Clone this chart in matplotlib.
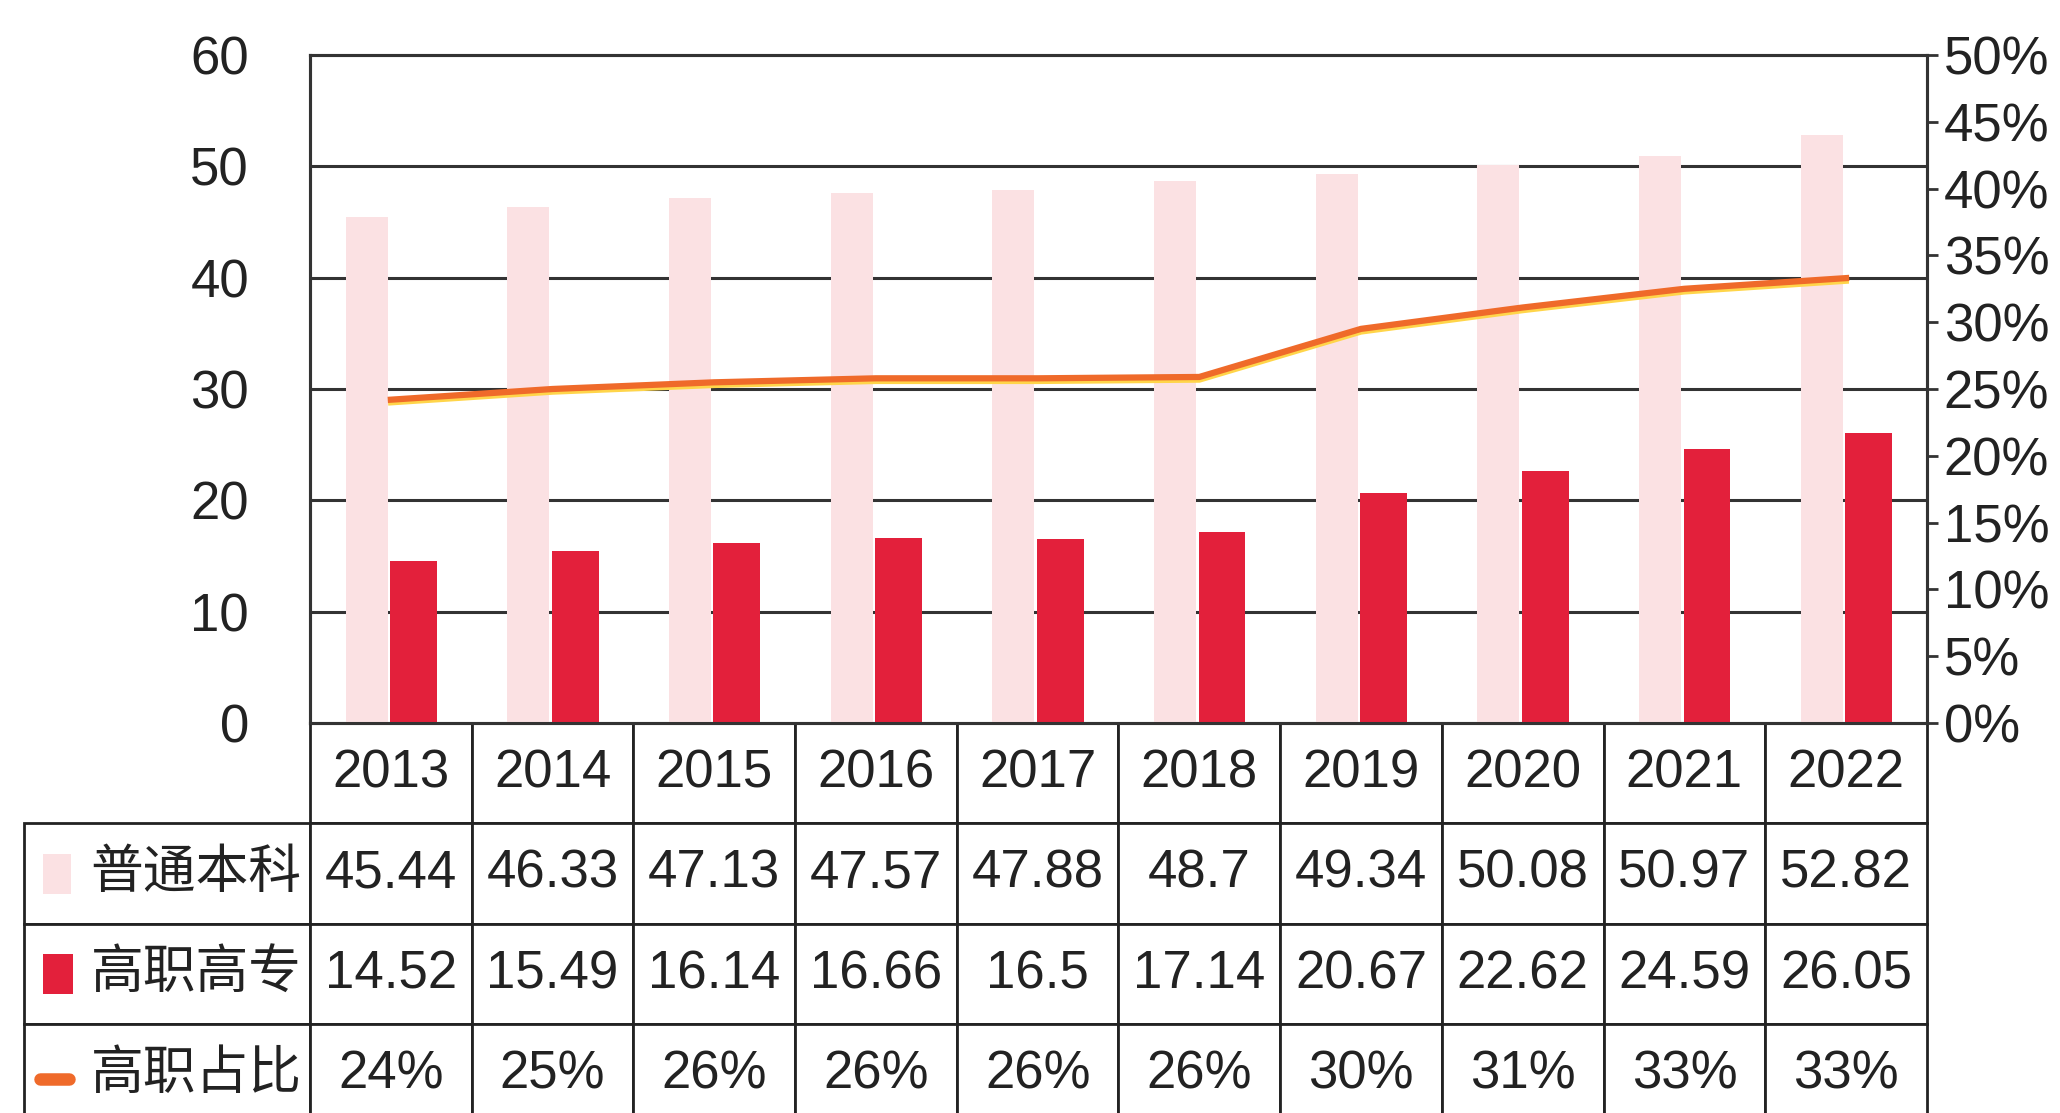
import matplotlib.pyplot as plt
from matplotlib.patches import Rectangle
from matplotlib.ticker import FuncFormatter
import matplotlib.transforms as mtransforms

plt.rcParams['font.family'] = ['Liberation Sans', 'Noto Sans CJK SC', 'DejaVu Sans']

# ---------------------------------------------------------------
# dados
# ---------------------------------------------------------------
anos = ["2013", "2014", "2015", "2016", "2017", "2018", "2019", "2020", "2021", "2022"]
benke = [45.44, 46.33, 47.13, 47.57, 47.88, 48.7, 49.34, 50.08, 50.97, 52.82]
gaozhi = [14.52, 15.49, 16.14, 16.66, 16.5, 17.14, 20.67, 22.62, 24.59, 26.05]
# linha do percentual
zhanbi = [24.2, 25.0, 25.5, 25.8, 25.8, 25.9, 29.5, 31.1, 32.5, 33.3]
zhanbi_txt = ["24%", "25%", "26%", "26%", "26%", "26%", "30%", "31%", "33%", "33%"]
nomes = ["普通本科", "高职高专", "高职占比"]

COR_ROSA = "#fbe1e3"
COR_VERM = "#e3203b"
COR_LARANJA = "#ef6a2a"
COR_AMARELO = "#ffd54a"
COR_GRADE = "#333333"
FS = 38

fig = plt.figure(figsize=(20.6, 11.13), dpi=100)
ax = fig.add_axes([0.1505, 0.3504, 0.7849, 0.6002])

x = list(range(len(anos)))
ax.bar([i - 0.15 for i in x], benke, width=0.26, color=COR_ROSA, zorder=3)
ax.bar([i + 0.14 for i in x], gaozhi, width=0.29, color=COR_VERM, zorder=3)

ax.set_xlim(-0.5, len(anos) - 0.5)
ax.set_ylim(0, 60)
ax.set_yticks(range(0, 70, 10))
ax.set_xticks([])
ax.tick_params(axis="y", length=0, pad=44, labelsize=FS, labelcolor="#222222")
for v in range(10, 60, 10):
    ax.axhline(v, color=COR_GRADE, lw=2.2, zorder=1)
for s in ax.spines.values():
    s.set_color(COR_GRADE)
    s.set_linewidth(2.2)

ax2 = ax.twinx()
ax2.set_ylim(0, 50)
ax2.set_yticks(range(0, 55, 5))
ax2.yaxis.set_major_formatter(FuncFormatter(lambda v, p: f"{int(v)}%"))
ax2.tick_params(axis="y", direction="out", length=8, width=2, pad=4,
                labelsize=FS, labelcolor="#222222", color=COR_GRADE)
for s in ax2.spines.values():
    s.set_color(COR_GRADE)
    s.set_linewidth(2.2)

# linha com leve brilho amarelo por baixo
deslocado = mtransforms.offset_copy(ax2.transData, fig=fig, x=0, y=-3, units="dots")
ax2.plot(x, zhanbi, color=COR_AMARELO, lw=4, transform=deslocado, zorder=4)
ax2.plot(x, zhanbi, color=COR_LARANJA, lw=4.5, zorder=5)

# ---------------------------------------------------------------
# tabela de dados
# ---------------------------------------------------------------
celulas = [[f"{v:g}" for v in benke],
           [f"{v:g}" for v in gaozhi],
           zhanbi_txt]

h_linha = 0.1504
larg_rotulo = 0.1769
# o bbox vale só para as células de dados (sem a coluna de rótulos)
tab = ax.table(cellText=celulas, rowLabels=nomes, colLabels=anos,
               cellLoc="center", rowLoc="right",
               bbox=[0, -4 * h_linha, 1, 4 * h_linha])
# a coluna de rótulos vem com largura automática; queremos largura fixa
tab._autoColumns = [c for c in tab._autoColumns if c != -1]
tab.auto_set_font_size(False)
tab.set_fontsize(FS)
for (r, c), cel in tab.get_celld().items():
    cel.set_edgecolor("#222222")
    cel.set_linewidth(2)
    cel.set_height(h_linha)
    cel.get_text().set_color("#222222")
    cel.set_clip_on(False)
    if c == -1:
        cel.set_width(larg_rotulo)
        cel.PAD = 0.03
    else:
        cel.set_width(0.1)

# marcadores de legenda nas linhas da tabela
tr = ax.transAxes
x0 = -larg_rotulo + 0.012
ax.add_patch(Rectangle((x0, -2 * h_linha + 0.045), 0.017, 0.06, transform=tr,
                       facecolor=COR_ROSA, edgecolor="none", clip_on=False, zorder=6))
ax.add_patch(Rectangle((x0, -3 * h_linha + 0.045), 0.018, 0.06, transform=tr,
                       facecolor=COR_VERM, edgecolor="none", clip_on=False, zorder=6))
ax.plot([x0 - 0.002, x0 + 0.016], [-4 * h_linha + 0.068] * 2, transform=tr,
        color=COR_LARANJA, lw=9, solid_capstyle="round", clip_on=False, zorder=6)

fig.savefig("out.png", dpi=100)
